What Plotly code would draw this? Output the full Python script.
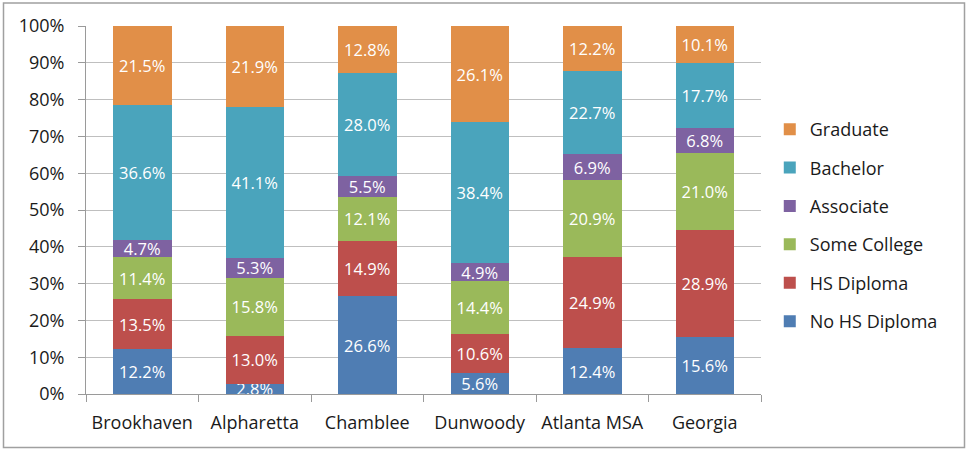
import plotly.graph_objects as go

# education attainment share by area (percent)
areas = ["Brookhaven", "Alpharetta", "Chamblee", "Dunwoody", "Atlanta MSA", "Georgia"]

no_hs = [12.2, 2.8, 26.6, 5.6, 12.4, 15.6]
hs_diploma = [13.5, 13.0, 14.9, 10.6, 24.9, 28.9]
some_college = [11.4, 15.8, 12.1, 14.4, 20.9, 21.0]
associate = [4.7, 5.3, 5.5, 4.9, 6.9, 6.8]
bachelor = [36.6, 41.1, 28.0, 38.4, 22.7, 17.7]
graduate = [21.5, 21.9, 12.8, 26.1, 12.2, 10.1]

series = [
    ("No HS Diploma", no_hs, "#4F7DB3"),
    ("HS Diploma", hs_diploma, "#BD4F4C"),
    ("Some College", some_college, "#9AB95A"),
    ("Associate", associate, "#7E62A1"),
    ("Bachelor", bachelor, "#4AA4BC"),
    ("Graduate", graduate, "#E18F48"),
]

FONT = "Open Sans, Noto Sans, sans-serif"

fig = go.Figure()
for i, (name, vals, color) in enumerate(series):
    fig.add_trace(go.Bar(
        x=areas, y=vals, name=name, legendgroup=name,
        legendrank=len(series) - i,  # graduate on top, like the stack
        marker=dict(color=color, line=dict(width=0)),
        text=[f"{v:.1f}%" for v in vals],
        textposition="inside", insidetextanchor="middle",
        textfont=dict(color="white", size=16.5, family=FONT),
        cliponaxis=True,
    ))

fig.update_layout(
    width=966, height=449,
    barmode="stack", barnorm="percent", bargap=0.48,
    paper_bgcolor="white", plot_bgcolor="white",
    margin=dict(l=86, r=205, t=26, b=55),
    font=dict(family=FONT, size=18, color="#1a1a1a"),
    uniformtext=dict(minsize=16, mode="show"),
    legend=dict(x=1.013, y=0.458, xanchor="left", yanchor="middle",
                traceorder="grouped", tracegroupgap=12,
                font=dict(size=18), itemwidth=30),
    shapes=[dict(type="rect", xref="paper", yref="paper",
                 x0=(3.5 - 86) / 675, x1=(964.5 - 86) / 675,
                 y0=(394 - 447.5) / 368, y1=(394 - 3) / 368,
                 line=dict(color="#a0a0a0", width=1.5))],
)
fig.update_yaxes(range=[0, 100], dtick=10, ticksuffix="%",
                 showgrid=True, gridcolor="#BFBFBF", gridwidth=1,
                 showline=True, linecolor="#9a9a9a", linewidth=1,
                 ticks="outside", ticklen=7, tickcolor="#9a9a9a",
                 ticklabelstandoff=10,
                 zeroline=False, tickfont=dict(size=18))
fig.update_xaxes(showline=True, linecolor="#9a9a9a", linewidth=1,
                 ticks="outside", ticklen=7, tickcolor="#9a9a9a",
                 tickson="boundaries", ticklabelstandoff=12,
                 tickfont=dict(size=18))

fig.write_html("out.html", config={"displayModeBar": False},
               post_script="document.body.style.margin='0';")
